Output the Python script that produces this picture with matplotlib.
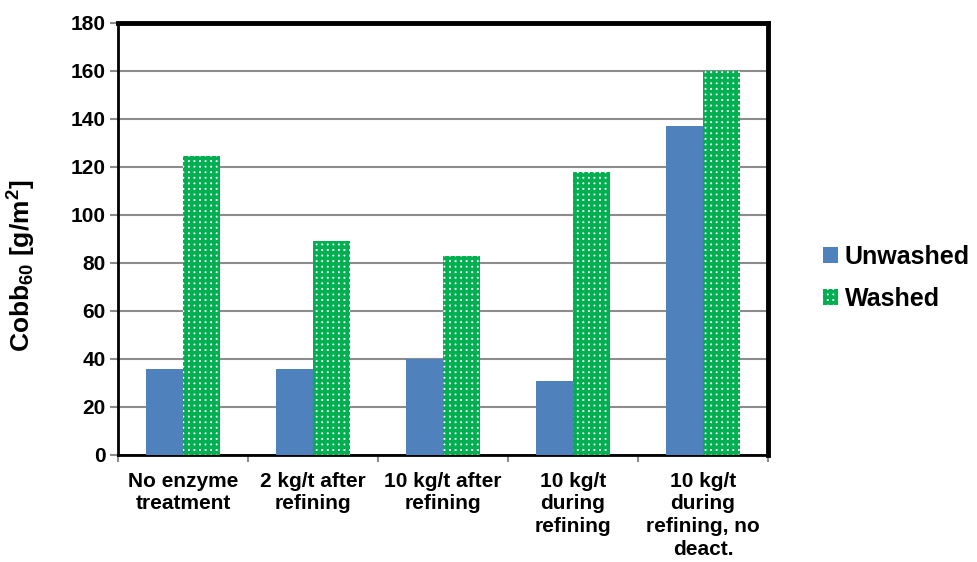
import numpy as np
import matplotlib.pyplot as plt

plt.rcParams['font.family'] = ['Liberation Sans', 'DejaVu Sans']
plt.rcParams['font.weight'] = 'bold'
plt.rcParams['mathtext.fontset'] = 'custom'
plt.rcParams['mathtext.rm'] = 'Liberation Sans:bold'
plt.rcParams['mathtext.bf'] = 'Liberation Sans:bold'
plt.rcParams['mathtext.default'] = 'bf'
plt.rcParams['hatch.linewidth'] = 2.6

# data
categories = ["No enzyme\ntreatment", "2 kg/t after\nrefining", "10 kg/t after\nrefining",
              "10 kg/t\nduring\nrefining", "10 kg/t\nduring\nrefining, no\ndeact."]
unwashed = [36, 36, 40, 31, 137]
washed = [124.5, 89, 83, 118, 160]

fig = plt.figure(figsize=(9.77, 5.62), dpi=100)
ax = fig.add_axes([118 / 977, 1 - 455 / 562, 650 / 977, 432 / 562])

x = np.arange(len(categories))
w = 0.285
ax.bar(x - w / 2, unwashed, w, color='#4f81bd', label='Unwashed', zorder=3)
ax.bar(x + w / 2, washed, w, color='white', edgecolor='#00b050', hatch='+++',
       linewidth=0, label='Washed', zorder=3)

ax.set_xlim(-0.5, len(categories) - 0.5)
ax.set_ylim(0, 180)
ax.set_yticks(np.arange(0, 181, 20))
ax.yaxis.grid(True, color='#8c8c8c', linewidth=1.5, zorder=0)

ax.set_xticks(x)
ax.set_xticklabels(categories, fontsize=15, fontweight='bold', linespacing=1.25)
ax.set_xticks(np.arange(-0.5, len(categories), 1), minor=True)
ax.tick_params(axis='x', which='major', length=0, pad=12)
ax.tick_params(axis='x', which='minor', length=5, color='#8c8c8c', width=1.5)
ax.tick_params(axis='y', length=6, color='#8c8c8c', width=1.5, labelsize=15, pad=3)
for lab in ax.get_yticklabels():
    lab.set_fontweight('bold')

for s in ['left', 'bottom']:
    ax.spines[s].set_linewidth(2)
    ax.spines[s].set_color('black')
for s in ['top', 'right']:
    ax.spines[s].set_linewidth(3.5)
    ax.spines[s].set_color('black')

ax.set_ylabel(r'Cobb$_{60}$ [g/m$^2$]', fontsize=19, fontweight='bold')
ax.yaxis.set_label_coords(-0.123, 0.4375)

fig.legend(loc='upper left', bbox_to_anchor=(800 / 977, 1 - 222 / 562), frameon=False,
           prop={'size': 18, 'weight': 'bold'}, handlelength=0.6, handleheight=0.6,
           handletextpad=0.3, labelspacing=0.72)

fig.savefig('out.png', dpi=100)
